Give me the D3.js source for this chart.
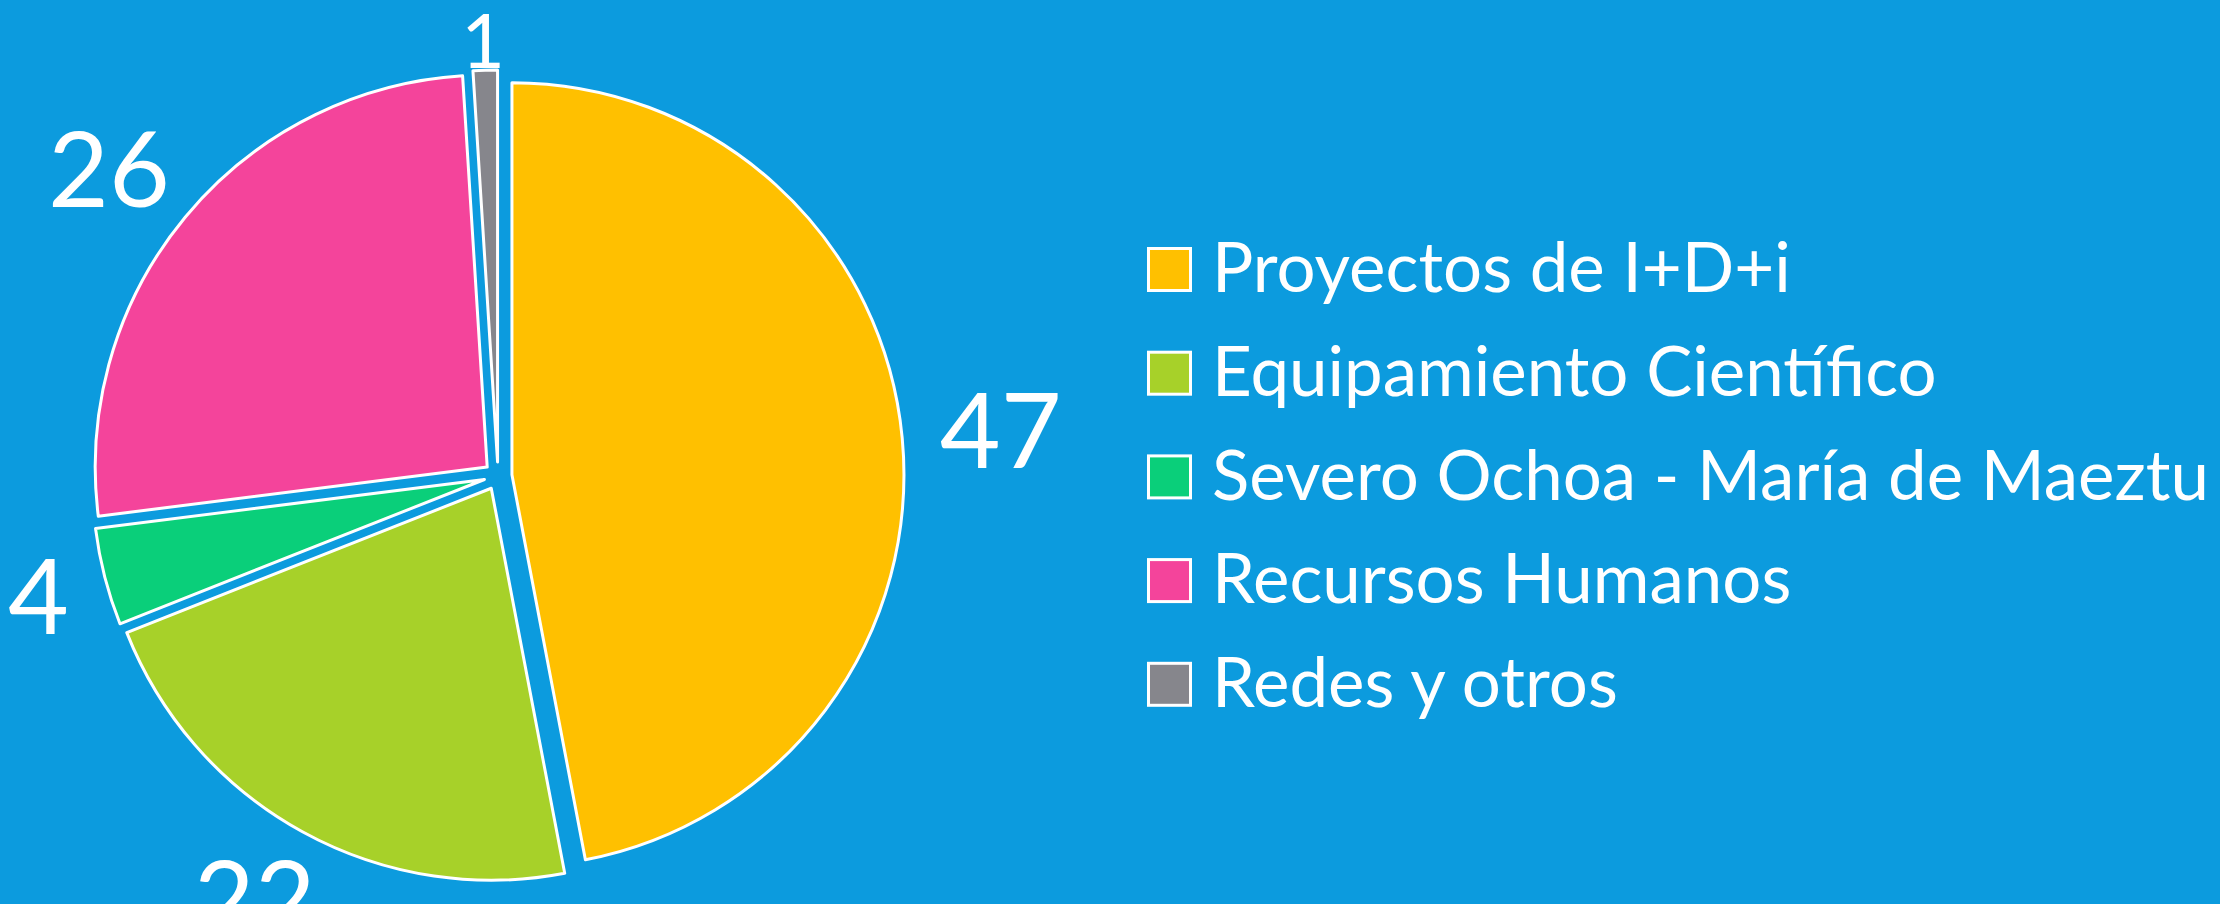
<!DOCTYPE html>
<html>
<head>
<meta charset="utf-8">
<script src="https://cdn.jsdelivr.net/npm/d3@7"></script>
<style>
  html, body { margin: 0; padding: 0; background: #0C9BDE; }
  svg { display: block; }
</style>
</head>
<body>
<svg id="chart"></svg>
<script>
// --- Données ---
const categories = [
  "Proyectos de I+D+i",
  "Equipamiento Científico",
  "Severo Ochoa - María de Maeztu",
  "Recursos Humanos",
  "Redes y otros"
];
const values = [47, 22, 4, 26, 1];
const colors = ["#FFC000", "#A7D129", "#0ACF7A", "#F4449B", "#86868C"];

const width = 2220, height = 904;
const cx = 498, cy = 476;
const radius = 392;
const explode = 14;
const labelGap = 38;
const labelSize = 105;
const legendSize = 69;
const topBound = 14;

const svg = d3.select("#chart")
  .attr("width", width)
  .attr("height", height)
  .attr("viewBox", [0, 0, width, height]);

svg.append("rect")
  .attr("width", width)
  .attr("height", height)
  .attr("fill", "#0C9BDE");

const data = categories.map((name, i) => ({ name, value: values[i], color: colors[i] }));

const pie = d3.pie()
  .sort(null)
  .value(d => d.value);

const arcs = pie(data);
const arc = d3.arc().innerRadius(0).outerRadius(radius);

const mid = d => (d.startAngle + d.endAngle) / 2;
const dir = d => [Math.sin(mid(d)), -Math.cos(mid(d))];

// --- Secteurs (éclatés) ---
const g = svg.append("g").attr("transform", `translate(${cx},${cy})`);

g.selectAll("path")
  .data(arcs)
  .join("path")
  .attr("transform", d => {
    const [dx, dy] = dir(d);
    return `translate(${dx * explode},${dy * explode})`;
  })
  .attr("d", arc)
  .attr("fill", d => d.data.color)
  .attr("stroke", "#fff")
  .attr("stroke-width", 3)
  .attr("stroke-linejoin", "round");

// --- Étiquettes de valeur ---
const labels = svg.append("g")
  .attr("font-family", "Lato, 'Open Sans', sans-serif")
  .attr("fill", "#fff")
  .attr("text-anchor", "middle");

labels.selectAll("text")
  .data(arcs)
  .join("text")
  .attr("font-size", labelSize)
  .text(d => d.data.value)
  .each(function (d) {
    const sel = d3.select(this);
    let fs = labelSize;
    let w = this.getComputedTextLength();
    let h = fs * 0.72;
    const [dx, dy] = dir(d);
    const rr = radius + explode + labelGap;
    let x = cx + dx * rr + dx * w / 2;
    let y = cy + dy * rr + dy * h / 2;
    // l'étiquette reste dans la zone du graphique : si elle déborde en haut,
    // on la réduit pour la loger entre le bord et la pointe du secteur
    if (y - h / 2 < topBound) {
      const tip = cy + dy * (radius + explode) - 2;
      h = Math.min(h, tip - topBound);
      fs = h / 0.72;
      sel.attr("font-size", fs);
      y = topBound + h / 2;
    }
    sel.attr("x", x).attr("y", y + h / 2);
  });

// --- Légende ---
const legendX = 1147, legendY0 = 269.5, legendStep = 103.7, box = 42;

const legend = svg.append("g")
  .attr("font-family", "Lato, 'Open Sans', sans-serif")
  .attr("font-size", legendSize)
  .attr("fill", "#fff");

const item = legend.selectAll("g")
  .data(data)
  .join("g")
  .attr("transform", (d, i) => `translate(${legendX},${legendY0 + i * legendStep})`);

item.append("rect")
  .attr("x", 1.5)
  .attr("y", -box / 2)
  .attr("width", box)
  .attr("height", box)
  .attr("fill", d => d.color)
  .attr("stroke", "#fff")
  .attr("stroke-width", 3);

item.append("text")
  .attr("x", 65)
  .attr("y", legendSize * 0.33)
  .text(d => d.name);
</script>
</body>
</html>
